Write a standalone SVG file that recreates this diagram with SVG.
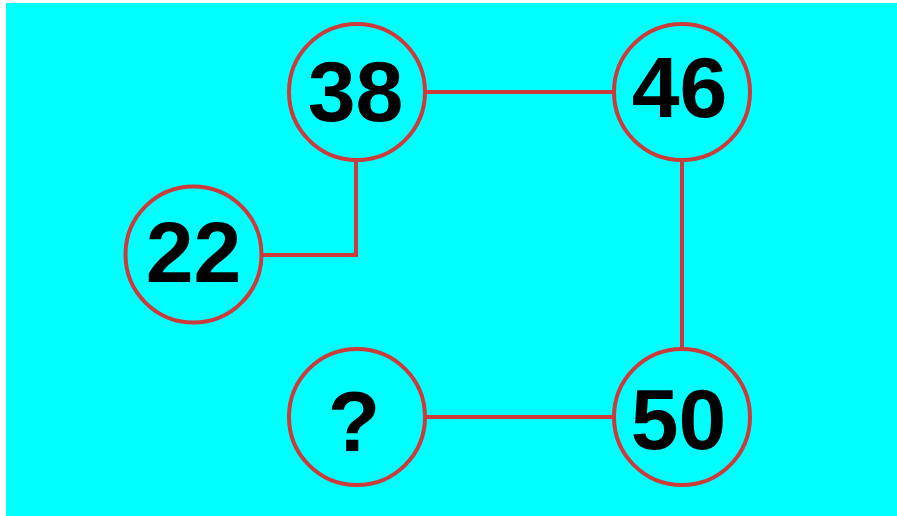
<svg xmlns="http://www.w3.org/2000/svg" width="897" height="516" viewBox="0 0 897 516">
<style>
.n circle{fill:#00ffff;stroke:#cc3a3a;stroke-width:4}
.n text{font-family:"Liberation Sans",Arial,sans-serif;font-weight:bold;font-size:86px;fill:#000;text-anchor:middle}
#edges path,#edges line{stroke:#cc3a3a;stroke-width:4;fill:none}
</style>
<rect x="0" y="0" width="897" height="516" fill="#ffffff"/>
<rect x="6" y="3" width="891" height="513" fill="#00ffff"/>
<g id="edges">
<line x1="357" y1="92" x2="682" y2="92"/>
<path d="M193.5 255 H356 V92"/>
<line x1="682" y1="92" x2="682" y2="417"/>
<line x1="357" y1="417" x2="682" y2="417"/>
</g>
<g id="n38" class="n"><circle cx="357" cy="92" r="68"/><text x="355.5" y="121">38</text></g>
<g id="n46" class="n"><circle cx="682" cy="92" r="68"/><text x="679.5" y="117">46</text></g>
<g id="n22" class="n"><circle cx="193.5" cy="254.5" r="68"/><text x="193.5" y="282">22</text></g>
<g id="nq" class="n"><circle cx="357" cy="417" r="68"/><text x="354" y="451">?</text></g>
<g id="n50" class="n"><circle cx="682" cy="417" r="68"/><text x="678.5" y="449">50</text></g>
</svg>
